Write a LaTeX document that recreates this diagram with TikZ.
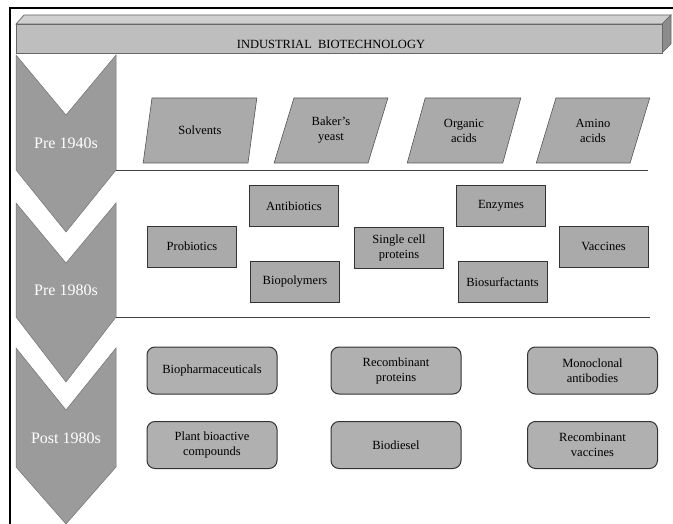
\documentclass[tikz,border=0pt]{standalone}
\usepackage{fontspec}
\setmainfont{Liberation Serif}
\usetikzlibrary{shapes.geometric}
\definecolor{barfront}{HTML}{BEBEBE}
\definecolor{bartop}{HTML}{CFCFCF}
\definecolor{barside}{HTML}{8C8C8C}
\definecolor{chev}{HTML}{9B9B9B}
\definecolor{boxfill}{HTML}{AAAAAA}
\definecolor{rboxfill}{HTML}{B0B0B0}
\definecolor{edge}{HTML}{555555}
\tikzset{
  txt/.style={font=\fontsize{12.5}{15}\selectfont, align=center, text=black},
  para/.style={txt, trapezium, trapezium left angle=69, trapezium right angle=111,
     trapezium stretches=true, minimum height=65pt, minimum width=114pt,
     fill=boxfill, draw=edge, line width=0.6pt, inner sep=1pt},
  rbox/.style={txt, rectangle, fill=boxfill, draw=black!80, line width=0.7pt,
     minimum width=89pt, minimum height=41pt, inner sep=1pt},
  rrbox/.style={txt, rectangle, rounded corners=8pt, fill=rboxfill, draw=black!80,
     line width=1pt, minimum width=130pt, minimum height=47pt, inner sep=1pt},
  chevron/.style={fill=chev, draw=black!55, line width=0.5pt, line join=miter},
  era/.style={font=\fontsize{16}{18}\selectfont, text=white},
  sep/.style={draw=black!75, line width=0.8pt},
  barface/.style={draw=black!60, line width=0.7pt, line join=miter}
}
\begin{document}
\begin{tikzpicture}[x=1pt,y=-1pt]
\useasboundingbox (0,0) rectangle (673,524);
% outer frame
\coordinate (fbl) at (9.5,524);
\coordinate (ftl) at (9.5,8.5);
\coordinate (ftr) at (673,8.5);
\draw[line width=2pt] (fbl) -- (ftl) -- (ftr);
% 3D bar
\coordinate (b1) at (16,24);
\coordinate (b2) at (662,24);
\coordinate (b3) at (662,53);
\coordinate (b4) at (16,53);
\coordinate (t1) at (24,15);
\coordinate (t2) at (671,15);
\coordinate (t3) at (671,44);
\draw[barface, fill=bartop] (b1) -- (t1) -- (t2) -- (b2) -- cycle;
\draw[barface, fill=barside] (b2) -- (t2) -- (t3) -- (b3) -- cycle;
\draw[barface, fill=barfront] (b1) -- (b2) -- (b3) -- (b4) -- cycle;
\node[txt] (title) at (331,44) {INDUSTRIAL\ \ BIOTECHNOLOGY};
% chevrons
\draw[chevron] (16,55) -- (66,115) -- (116,55) -- (116,170) -- (66,232) -- (16,170) -- cycle;
\draw[chevron] (16,203) -- (66,263) -- (116,203) -- (116,317) -- (66,382) -- (16,317) -- cycle;
\draw[chevron] (16,348) -- (66,410) -- (116,348) -- (116,467) -- (66,524) -- (16,467) -- cycle;
\node[era] (e1) at (66,143) {Pre 1940s};
\node[era] (e2) at (66,290) {Pre 1980s};
\node[era] (e3) at (66,438) {Post 1980s};
% separators
\coordinate (s1a) at (116,170);
\coordinate (s1b) at (648,170);
\coordinate (s2a) at (116,317);
\coordinate (s2b) at (650,317);
\draw[sep] (s1a) -- (s1b);
\draw[sep] (s2a) -- (s2b);
% row 1
\node[para] (solv) at (200,130.5) {Solvents};
\node[para] (baker) at (331,130.5) {Baker's\\yeast};
\node[para] (org) at (464,130.5) {Organic\\acids};
\node[para] (amino) at (593,130.5) {Amino\\acids};
% row 2
\node[rbox] (probio) at (192,246.5) {Probiotics};
\node[rbox] (antibio) at (294,206) {Antibiotics};
\node[rbox] (biopoly) at (295,281.5) {Biopolymers};
\node[rbox] (scp) at (399,247.5) {Single cell\\proteins};
\node[rbox] (enz) at (501,205.5) {Enzymes};
\node[rbox] (biosurf) at (502.5,282) {Biosurfactants};
\node[rbox] (vacc) at (603.5,246.5) {Vaccines};
% row 3
\node[rrbox] (biopharm) at (212,370.5) {Biopharmaceuticals};
\node[rrbox] (recprot) at (396,370.5) {Recombinant\\proteins};
\node[rrbox] (mono) at (592.5,370.5) {Monoclonal\\antibodies};
\node[rrbox] (plant) at (212,445) {Plant bioactive\\compounds};
\node[rrbox] (biodiesel) at (396,445) {Biodiesel};
\node[rrbox] (recvacc) at (592.5,445) {Recombinant\\vaccines};
\end{tikzpicture}
\end{document}
